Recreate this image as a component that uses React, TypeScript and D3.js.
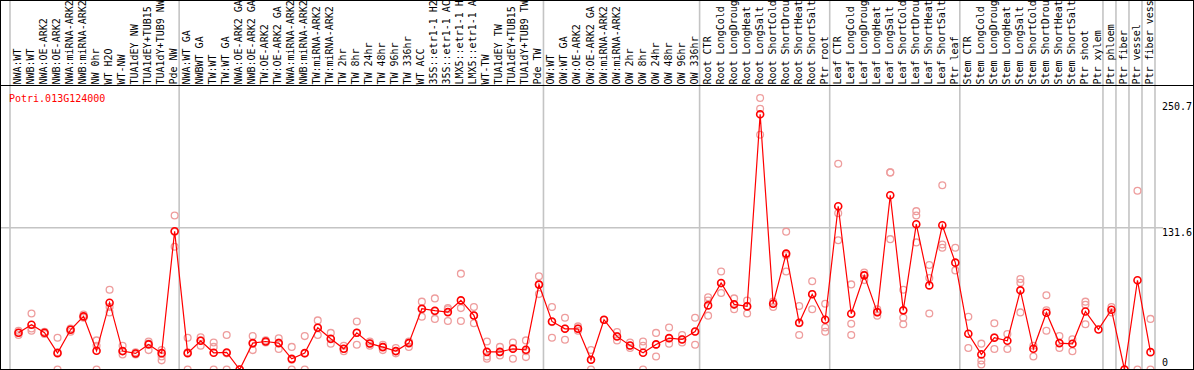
import React, { useEffect, useRef } from "react";
import * as d3 from "d3";

const geneId = "Potri.013G124000";

const sampleLabels = [
  // NW
  "NWA:WT", "NWB:WT", "NWA:OE-ARK2", "NWB:OE-ARK2", "NWA:miRNA-ARK2", "NWB:miRNA-ARK2",
  "NW 0hr", "WT H2O", "WT-NW", "TUA1dEY NW", "TUA1dEY+TUB15 NW", "TUA1dY+TUB9 NW", "Pde NW",
  // TW
  "NWA:WT GA", "NWBWT GA", "TW:WT", "TW:WT GA", "NWA:OE-ARK2 GA", "NWB:OE-ARK2 GA",
  "TW:OE-ARK2", "TW:OE-ARK2 GA", "NWA:miRNA-ARK2 GA", "NWB:miRNA-ARK2 GA", "TW:miRNA-ARK2",
  "TW:miRNA-ARK2 GA", "TW 2hr", "TW 8hr", "TW 24hr", "TW 48hr", "TW 96hr", "TW 336hr", "WT ACC",
  "35S::etr1-1 H2O", "35S::etr1-1 ACC", "LMX5::etr1-1 H2O", "LMX5::etr1-1 ACC", "WT-TW",
  "TUA1dEY TW", "TUA1dEY+TUB15 TW", "TUA1dY+TUB9 TW", "Pde TW",
  // OW
  "OW:WT", "OW:WT GA", "OW:OE-ARK2", "OW:OE-ARK2 GA", "OW:miRNA-ARK2", "OW:miRNA-ARK2 GA",
  "OW 2hr", "OW 8hr", "OW 24hr", "OW 48hr", "OW 96hr", "OW 336hr",
  // root
  "Root CTR", "Root LongCold", "Root LongDrought", "Root LongHeat", "Root LongSalt",
  "Root ShortCold", "Root ShortDrought", "Root ShortHeat", "Root ShortSalt", "Ptr root",
  // leaf
  "Leaf CTR", "Leaf LongCold", "Leaf LongDrought", "Leaf LongHeat", "Leaf LongSalt",
  "Leaf ShortCold", "Leaf ShortDrought", "Leaf ShortHeat", "Leaf ShortSalt", "Ptr leaf",
  // stem
  "Stem CTR", "Stem LongCold", "Stem LongDrought", "Stem LongHeat", "Stem LongSalt",
  "Stem ShortCold", "Stem ShortDrought", "Stem ShortHeat", "Stem ShortSalt", "Ptr shoot", "Ptr xylem",
  "Ptr phloem", "Ptr fiber", "Ptr vessel", "Ptr fiber vessel"
];

// sample index where each gray separator sits
const groupBreaks = [0, 13, 41, 53, 63, 73, 84, 85, 86, 87, 88];

const meanValues = [
  34.1, 41.6, 34.1, 15.2, 36.9, 49.3, 17.4, 62, 17.1, 14.9, 23.3, 15.2, 128.3,
  15.2, 26.7, 15.5, 15.8, 0, 24.5, 26, 24.5, 9.9, 15.2, 38.8, 28.5, 19.2, 34.1, 24.2,
  20.8, 17.1, 24.5, 56.4, 54.6, 53.3, 64.2, 50.2, 16.4, 16.4, 19.2, 18.3, 78.8,
  44.6, 37.8, 37.8, 9, 46.2, 30.7, 22.3, 15.5, 23.3, 29.1, 27.9, 35.3,
  59.5, 80.3, 60.5, 58.6, 236.9, 61.1, 107.6, 43.4, 69.8, 46.2,
  151.6, 51.8, 87.4, 53.3, 161.8, 54.9, 134.9, 78.1, 133.9, 99.2,
  33.2, 14, 29.5, 26.7, 73.5, 19.2, 52.7, 24.5, 23.9, 53.9, 37.2,
  55.5, 0, 82.8, 16.1
];

const replicateValues = [
  [36, 32, 34], [52, 36, 38], [35, 34, 33], [29.5, 0, 16], [38, 35, 37], [51, 48, 49],
  [27, 22, 0], [74, 53, 58], [22, 14, 17], [14, 15, 16], [26, 18, 24], [18, 12, 8.5],
  [143, 114, 128],
  [29.5, 0, 16], [30, 22, 27], [25, 21, 0], [32, 0, 15], [0, 0], [31, 18, 24], [26, 27, 25],
  [29, 19, 25], [21, 0, 9], [31, 0, 15], [45.6, 32, 39], [34, 24, 28], [22, 17, 19],
  [44.6, 23, 34], [26, 22, 24], [23, 18, 21], [20, 15, 17], [26, 21, 25], [63, 49, 56],
  [66, 47, 54], [57, 45, 56], [89, 57, 45], [58, 43, 50], [26, 12, 10], [21, 13, 16],
  [25, 10, 20], [27, 11.5, 17], [86.5, 70, 79],
  [58, 29.5, 44], [48, 27.6, 38], [40, 36, 38], [18, 0, 9], [46, 46], [34.7, 27, 31],
  [25, 20, 22], [26, 22, 0], [34, 12, 23], [39, 24, 29], [32, 25, 28], [48, 23, 35],
  [67, 64, 50], [91, 71, 80], [66, 56, 60], [64, 52, 59], [252, 242, 218], [63, 58, 61],
  [128, 91, 106], [59, 32, 43], [82, 56, 70], [61, 39, 35],
  [191, 145, 120], [79, 42.5, 32], [90, 83, 88], [56, 50, 53], [183, 183, 121],
  [74, 48, 42], [147, 143, 118], [97, 85, 52], [171, 116, 113], [113, 92],
  [49, 20], [24, 8.4, 4.6], [43, 19, 30], [33, 19], [84, 80.5, 53], [22, 12],
  [69, 55, 36], [31, 20], [28, 17], [63, 60, 42], [],
  [58, 53], [0], [166, 0], [47, 0]
];

const yTicks = [0, 131.6, 250.7];
const yMax = 263.2;

export default function App() {
  const refElement = useRef(null);

  useEffect(() => {
    const el = refElement.current;
    if (!el) return;

    const width = 1194,
      height = 370,
      labelBottom = 85.5,
      maxChars = 14; // label strip only fits this many characters

    const svg = d3
      .select(el)
      .append("svg")
      .attr("width", width)
      .attr("height", height)
      .style("position", "absolute")
      .style("left", "0px")
      .style("top", "0px")
      .style("background", "#fff")
      .style("font-family", "'DejaVu Sans Mono', monospace")
      .style("font-size", "10px");

    const n = sampleLabels.length;
    const xScale = d3
      .scaleBand()
      .domain(d3.range(n))
      .range([10, 1155]);
    const step = xScale.step();
    const px = i => xScale(i) + 8.5;
    const yScale = d3
      .scaleLinear()
      .domain([0, yMax])
      .range([369.5, 86]);

    // gray separators between sample groups
    svg
      .append("g")
      .selectAll("line")
      .data(groupBreaks)
      .join("line")
      .attr("x1", d => 10 + d * step)
      .attr("x2", d => 10 + d * step)
      .attr("y1", 0)
      .attr("y2", height)
      .attr("stroke", "#c4c4c4")
      .attr("stroke-width", 1.6);

    svg
      .append("line")
      .attr("x1", 1)
      .attr("x2", 1163)
      .attr("y1", yScale(131.6))
      .attr("y2", yScale(131.6))
      .attr("stroke", "#c4c4c4")
      .attr("stroke-width", 1.6);

    // replicates
    const reps = [];
    replicateValues.forEach((vals, i) => vals.forEach(v => reps.push({ i, v })));
    svg
      .append("g")
      .selectAll("circle")
      .data(reps)
      .join("circle")
      .attr("cx", d => px(d.i))
      .attr("cy", d => yScale(d.v))
      .attr("r", 3.4)
      .attr("fill", "none")
      .attr("stroke", "#ee9d9d")
      .attr("stroke-width", 1.3);

    const line = d3
      .line()
      .x((d, i) => px(i))
      .y(d => yScale(d));

    svg
      .append("path")
      .datum(meanValues)
      .attr("d", line)
      .attr("fill", "none")
      .attr("stroke", "#ff0000")
      .attr("stroke-width", 1.2);

    svg
      .append("g")
      .selectAll("circle")
      .data(meanValues)
      .join("circle")
      .attr("cx", (d, i) => px(i))
      .attr("cy", d => yScale(d))
      .attr("r", 3.5)
      .attr("fill", "none")
      .attr("stroke", "#ff0000")
      .attr("stroke-width", 1.6);

    // frame
    svg
      .append("rect")
      .attr("x", 0.5)
      .attr("y", 0.5)
      .attr("width", 1193)
      .attr("height", 369)
      .attr("fill", "none")
      .attr("stroke", "#000");
    svg
      .append("line")
      .attr("x1", 0)
      .attr("x2", width)
      .attr("y1", labelBottom)
      .attr("y2", labelBottom)
      .attr("stroke", "#000");

    // sample labels, rotated and cut to the strip height
    svg
      .append("g")
      .selectAll("text")
      .data(sampleLabels)
      .join("text")
      .attr("transform", (d, i) => "translate(" + (px(i) + 2.5) + "," + (labelBottom - 1) + ") rotate(-90)")
      .attr("fill", "#000")
      .text(d => d.slice(0, maxChars).trim());

    svg
      .append("text")
      .attr("x", 9)
      .attr("y", 101.5)
      .attr("fill", "#ff0000")
      .text(geneId);

    svg
      .append("g")
      .selectAll("text")
      .data(yTicks)
      .join("text")
      .attr("x", 1162)
      .attr("y", (d, i) => (d === 0 ? yScale(d) - 3.5 : yScale(d) + (i === yTicks.length - 1 ? 11 : 8.5)))
      .attr("fill", "#000")
      .text(d => d);

    return () => {
      d3.select(el).select("svg").remove();
    };
  }, []);

  return <div className="chart" ref={refElement} />;
}
